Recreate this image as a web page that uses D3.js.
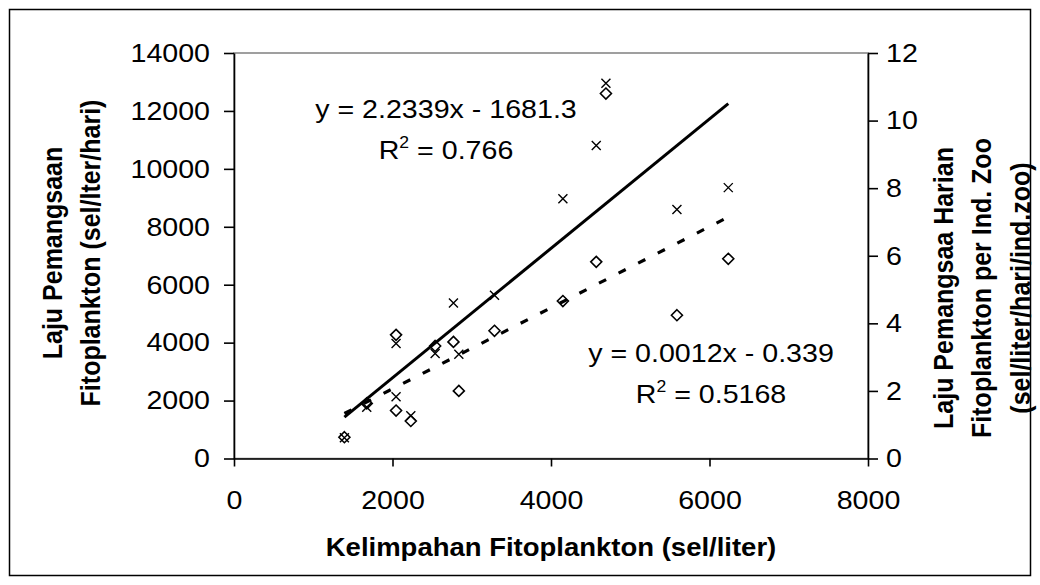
<!DOCTYPE html>
<html>
<head>
<meta charset="utf-8">
<script src="https://cdn.jsdelivr.net/npm/d3@7"></script>
<style>
  html, body { margin: 0; padding: 0; background: #fff; }
  svg text { font-family: "Liberation Sans", Arial, sans-serif; fill: #000; }
</style>
</head>
<body>
<svg id="chart" width="1040" height="585"></svg>
<script>
// kelimpahan fitoplankton (sel/liter)
const abundance = [1393, 1675, 2045, 2045, 2231, 2538, 2769, 2837, 3287, 4150, 4571, 4693, 5589, 6237];
// laju pemangsaan (sel/lter/hari) - crosses, left axis
const grazingRate = [720, 1766, 3972, 2131, 1476, 3628, 5372, 3603, 5638, 8972, 10810, 12959, 8593, 9352];
// laju pemangsaan harian per ind. zoo - diamonds, right axis
const grazingPerZoo = [0.63, 1.63, 3.66, 1.42, 1.11, 3.33, 3.45, 2.0, 3.78, 4.66, 5.82, 10.8, 4.24, 5.91];

const xTicks = [0, 2000, 4000, 6000, 8000];
const leftTicks = [0, 2000, 4000, 6000, 8000, 10000, 12000, 14000];
const rightTicks = [0, 2, 4, 6, 8, 10, 12];

const trendRate = { slope: 2.2339, intercept: -1681.3, label: 'y = 2.2339x - 1681.3', r2: '0.766' };
const trendPerZoo = { slope: 0.0012, intercept: -0.339, label: 'y = 0.0012x - 0.339', r2: '0.5168' };

const K = 1.1; // picture is a bit wider than tall

const svg = d3.select('#chart');
const plot = { left: 234, right: 868, top: 53, bottom: 458.5 };

const x = d3.scaleLinear().domain([0, 8000]).range([plot.left, plot.right]);
const yL = d3.scaleLinear().domain([0, 14000]).range([plot.bottom, plot.top]);
const yR = d3.scaleLinear().domain([0, 12]).range([plot.bottom, plot.top]);

// outer frame
svg.append('rect')
  .attr('x', 9.5).attr('y', 9.5)
  .attr('width', 1021).attr('height', 566)
  .attr('fill', 'none').attr('stroke', '#000').attr('stroke-width', 1.5);

// plot area border
svg.append('rect')
  .attr('x', plot.left).attr('y', plot.top)
  .attr('width', plot.right - plot.left).attr('height', plot.bottom - plot.top)
  .attr('fill', 'none').attr('stroke', '#808080').attr('stroke-width', 1.5);

const styleAxis = (g) => {
  g.select('.domain').attr('stroke', '#000').attr('stroke-width', 1.6);
  g.selectAll('.tick line').attr('stroke', '#000').attr('stroke-width', 1.6);
  g.selectAll('.tick text').style('font-size', '26px');
};

const gx = svg.append('g')
  .attr('transform', `translate(0,${plot.bottom})`)
  .call(d3.axisBottom(x).tickValues(xTicks).tickSize(8).tickSizeOuter(0).tickFormat(d3.format('d')))
  .call(styleAxis);
gx.selectAll('.tick text').attr('y', 32).attr('transform', `scale(${K},1)`);

const gl = svg.append('g')
  .attr('transform', `translate(${plot.left},0)`)
  .call(d3.axisLeft(yL).tickValues(leftTicks).tickSize(10).tickSizeOuter(0).tickFormat(d3.format('d')))
  .call(styleAxis);
gl.selectAll('.tick text').attr('x', -24 / K).attr('transform', `scale(${K},1)`);

const gr = svg.append('g')
  .attr('transform', `translate(${plot.right},0)`)
  .call(d3.axisRight(yR).tickValues(rightTicks).tickSize(10).tickSizeOuter(0).tickFormat(d3.format('d')))
  .call(styleAxis);
gr.selectAll('.tick text').attr('x', 18 / K).attr('transform', `scale(${K},1)`);

// trend lines
const [x0, x1] = d3.extent(abundance);
const line = d3.line().x((d) => x(d[0])).y((d) => d[1]);

svg.append('path')
  .datum([[x0, yL(trendRate.slope * x0 + trendRate.intercept)], [x1, yL(trendRate.slope * x1 + trendRate.intercept)]])
  .attr('d', line)
  .attr('fill', 'none').attr('stroke', '#000').attr('stroke-width', 3);

svg.append('path')
  .datum([[x0, yR(trendPerZoo.slope * x0 + trendPerZoo.intercept)], [x1, yR(trendPerZoo.slope * x1 + trendPerZoo.intercept)]])
  .attr('d', line)
  .attr('fill', 'none').attr('stroke', '#000').attr('stroke-width', 3.2)
  .attr('stroke-dasharray', '8,14');

// crosses
svg.append('g').selectAll('path')
  .data(abundance.map((a, i) => [a, grazingRate[i]]))
  .enter()
  .append('path')
  .attr('transform', (d) => `translate(${x(d[0])},${yL(d[1])})`)
  .attr('d', 'M-4.5,-4.5L4.5,4.5M-4.5,4.5L4.5,-4.5')
  .attr('fill', 'none').attr('stroke', '#000').attr('stroke-width', 1.4);

// diamonds
svg.append('g').selectAll('path')
  .data(abundance.map((a, i) => [a, grazingPerZoo[i]]))
  .enter()
  .append('path')
  .attr('transform', (d) => `translate(${x(d[0])},${yR(d[1])})`)
  .attr('d', 'M0,-5.5L5.5,0L0,5.5L-5.5,0Z')
  .attr('fill', 'none').attr('stroke', '#000').attr('stroke-width', 1.6);

// equations
const eq = (cx, cy, t) => {
  const g = svg.append('g').attr('transform', `translate(${cx},${cy}) scale(${K},1)`);
  g.append('text').attr('text-anchor', 'middle').style('font-size', '26px').text(t.label);
  const r = g.append('text').attr('text-anchor', 'middle').attr('y', 41).style('font-size', '26px');
  r.append('tspan').text('R');
  r.append('tspan').attr('dy', -11).style('font-size', '16px').text('2');
  r.append('tspan').attr('dy', 11).text(' = ' + t.r2);
};
eq(446, 118, trendRate);
eq(711, 362, trendPerZoo);

// axis titles
svg.append('text')
  .attr('transform', `translate(${(plot.left + plot.right) / 2},556) scale(${K},1)`)
  .attr('text-anchor', 'middle')
  .style('font-size', '25px').style('font-weight', 'bold')
  .text('Kelimpahan Fitoplankton (sel/liter)');

const vTitle = (cx, cy, lines) => {
  const t = svg.append('text')
    .attr('transform', `translate(${cx},${cy}) scale(${K},1) rotate(-90)`)
    .attr('text-anchor', 'middle')
    .style('font-size', '25px').style('font-weight', 'bold');
  lines.forEach((s, i) => {
    t.append('tspan').attr('x', 0).attr('y', i * 35).text(s);
  });
};
vTitle(62, 253, ['Laju Pemangsaan', 'Fitoplankton (sel/lter/hari)']);
vTitle(953, 288, ['Laju Pemangsaa Harian', 'Fitoplankton per Ind. Zoo', '(sel/liter/hari/ind.zoo)']);
</script>
</body>
</html>
